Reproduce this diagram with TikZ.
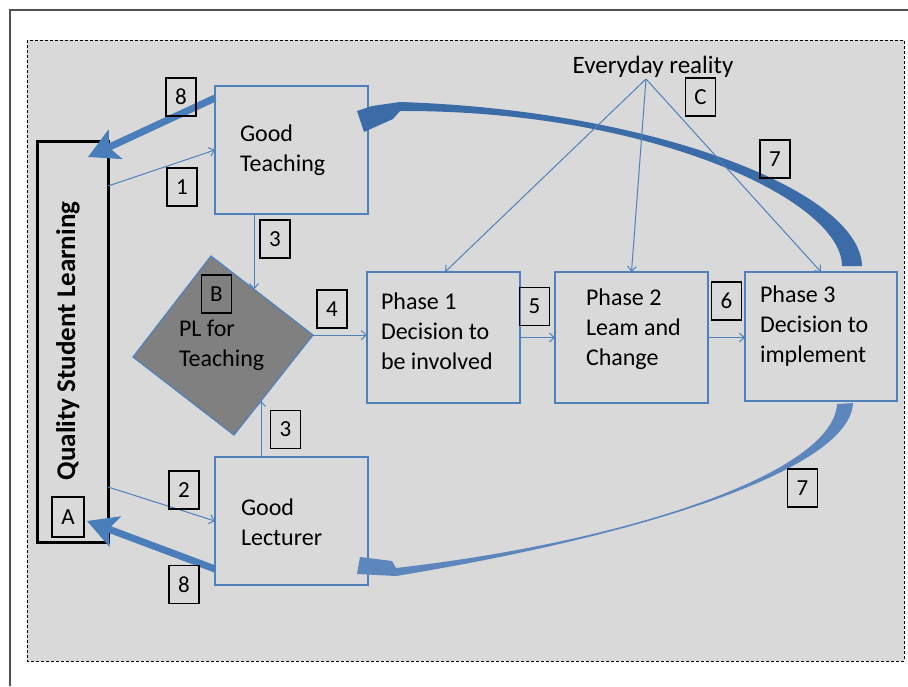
\documentclass[tikz,border=0pt]{standalone}
\usepackage{fontspec}
\setmainfont{Carlito}
\usetikzlibrary{arrows.meta,calc}
\definecolor{boxblue}{RGB}{79,129,189}
\definecolor{bgray}{RGB}{217,217,217}
\definecolor{diamgray}{RGB}{128,128,128}
\definecolor{thickblue}{RGB}{74,126,187}
\definecolor{curveup}{RGB}{60,108,168}
\definecolor{curvelow}{RGB}{92,134,188}
\definecolor{framegray}{RGB}{80,80,80}
\begin{document}
\begin{tikzpicture}[x=1pt,y=-1pt,
  every node/.style={inner sep=0pt, outer sep=0pt},
  txt/.style={font=\fontsize{24}{30}\selectfont, align=left, text=black},
  stage/.style={draw=boxblue, line width=1.2pt, minimum width=153pt, minimum height=128pt},
  tag/.style={draw=black, line width=1.2pt, minimum width=30pt, minimum height=38pt,
              font=\fontsize{23}{25}\selectfont},
  link/.style={draw=boxblue, line width=1pt, -{Straight Barb[length=5pt,width=9pt]}},
  feedback/.style={draw=thickblue, line width=7pt,
                   -{Stealth[length=30pt,width=32pt,inset=7pt]}}
]
\useasboundingbox (0,0) rectangle (908,686);

% page frame and dashed panel
\draw[framegray, line width=1.5pt] (10,686) -- (10,10) -- (908,10);
\filldraw[fill=bgray, draw=black, line width=0.8pt, dash pattern=on 3pt off 2pt]
  (27,40) rectangle (904,661);

% main boxes
\node[draw=black, line width=3pt, minimum width=71pt, minimum height=401pt] (qsl) at (72.5,341.5) {};
\node[font=\fontsize{27}{30}\selectfont\bfseries, rotate=90] (qsltext) at (68,341) {Quality Student Learning};

\node[stage] (gt) at (291.5,150) {};
\node[stage] (gl) at (291.5,521) {};
\node[stage, minimum height=131pt] (p1) at (443.5,337.5) {};
\node[stage, minimum height=131pt] (p2) at (631.5,337.5) {};
\node[stage, minimum width=152pt, minimum height=129pt] (p3) at (821,336.5) {};

% diamond
\coordinate (dt) at (211,256);
\coordinate (drr) at (313,335);
\coordinate (db) at (234,435);
\coordinate (dl) at (133,357);
\filldraw[fill=diamgray, draw=boxblue, line width=1.2pt] (dt) -- (drr) -- (db) -- (dl) -- cycle;
\coordinate (d3a) at ($(dt)!0.4216!(drr)$);
\coordinate (d3b) at ($(drr)!0.658!(db)$);

% box texts
\node[txt, anchor=west] (gtt) at (240,150) {Good\\Teaching};
\node[txt, anchor=west] (glt) at (241,522) {Good\\Lecturer};
\node[txt, anchor=west] (plt) at (179,345) {PL for\\Teaching};
\node[txt, anchor=west] (p1t) at (381,331) {Phase 1\\Decision to\\be involved};
\node[txt, anchor=west] (p2t) at (586,329.5) {Phase 2\\Leam and\\Change};
\node[txt, anchor=west] (p3t) at (760,326) {Phase 3\\Decision to\\implement};
\node[txt, font=\fontsize{25}{30}\selectfont] (er) at (653,67) {Everyday reality};
\coordinate (apex) at (646,79);

% curved feedback arrows (7)
\fill[curveup] (862,266) .. controls (860,190) and (650,110) .. (400,102)
  -- (372,106) -- (357,111) -- (364,132) -- (393,119) -- (400,111)
  .. controls (650,110) and (842,200) .. (842,266) -- cycle;
\fill[curvelow] (837,404) .. controls (834,470) and (640,540) .. (396,568)
  -- (392,561) -- (360,557) -- (357,574) -- (396,576)
  .. controls (640,536) and (850,470) .. (853,403) -- cycle;

% thin connectors
\draw[link] ([yshift=-45pt]qsl.north east) -- (gt.west);
\draw[link] ([yshift=55pt]qsl.south east) -- (gl.west);
\draw[link] (d3a |- gt.south) -- (d3a);
\draw[link] (d3b |- gl.north) -- (d3b);
\draw[link] (drr) -- (drr -| p1.west);
\draw[link] (p1.east) -- (p2.west);
\draw[link] (p2.east) -- (p2.east -| p3.west);
\draw[link] (apex) -- ([xshift=1.5pt]p1.north);
\draw[link] (apex) -- (p2.north);
\draw[link] (apex) -- (p3.north);

% thick arrows back to student learning (8)
\draw[feedback] ([yshift=-12pt]gt.north west) -- ([xshift=51pt,yshift=-16pt]qsl.north west);
\draw[feedback] ([yshift=16pt]gl.south west) -- ([xshift=50pt,yshift=21pt]qsl.south west);

% numbered and lettered tags
\node[tag] (n8a) at (181,97) {8};
\node[tag] (n1) at (182,187) {1};
\node[tag] (n3a) at (275,239) {3};
\node[tag] (n4) at (332,309) {4};
\node[tag] (n5) at (534.5,306.5) {5};
\node[tag] (n6) at (726.5,301) {6};
\node[tag] (n7a) at (775,159) {7};
\node[tag] (n3b) at (285.5,429.5) {3};
\node[tag] (n2) at (184,490) {2};
\node[tag] (n8b) at (184,584.5) {8};
\node[tag] (n7b) at (802.5,488) {7};
\node[tag] (lc) at (700.5,97) {C};
\node[tag] (lb) at (216.5,294) {B};
\node[tag, minimum width=32pt, minimum height=40pt] (la) at (68,517) {A};
\end{tikzpicture}
\end{document}
